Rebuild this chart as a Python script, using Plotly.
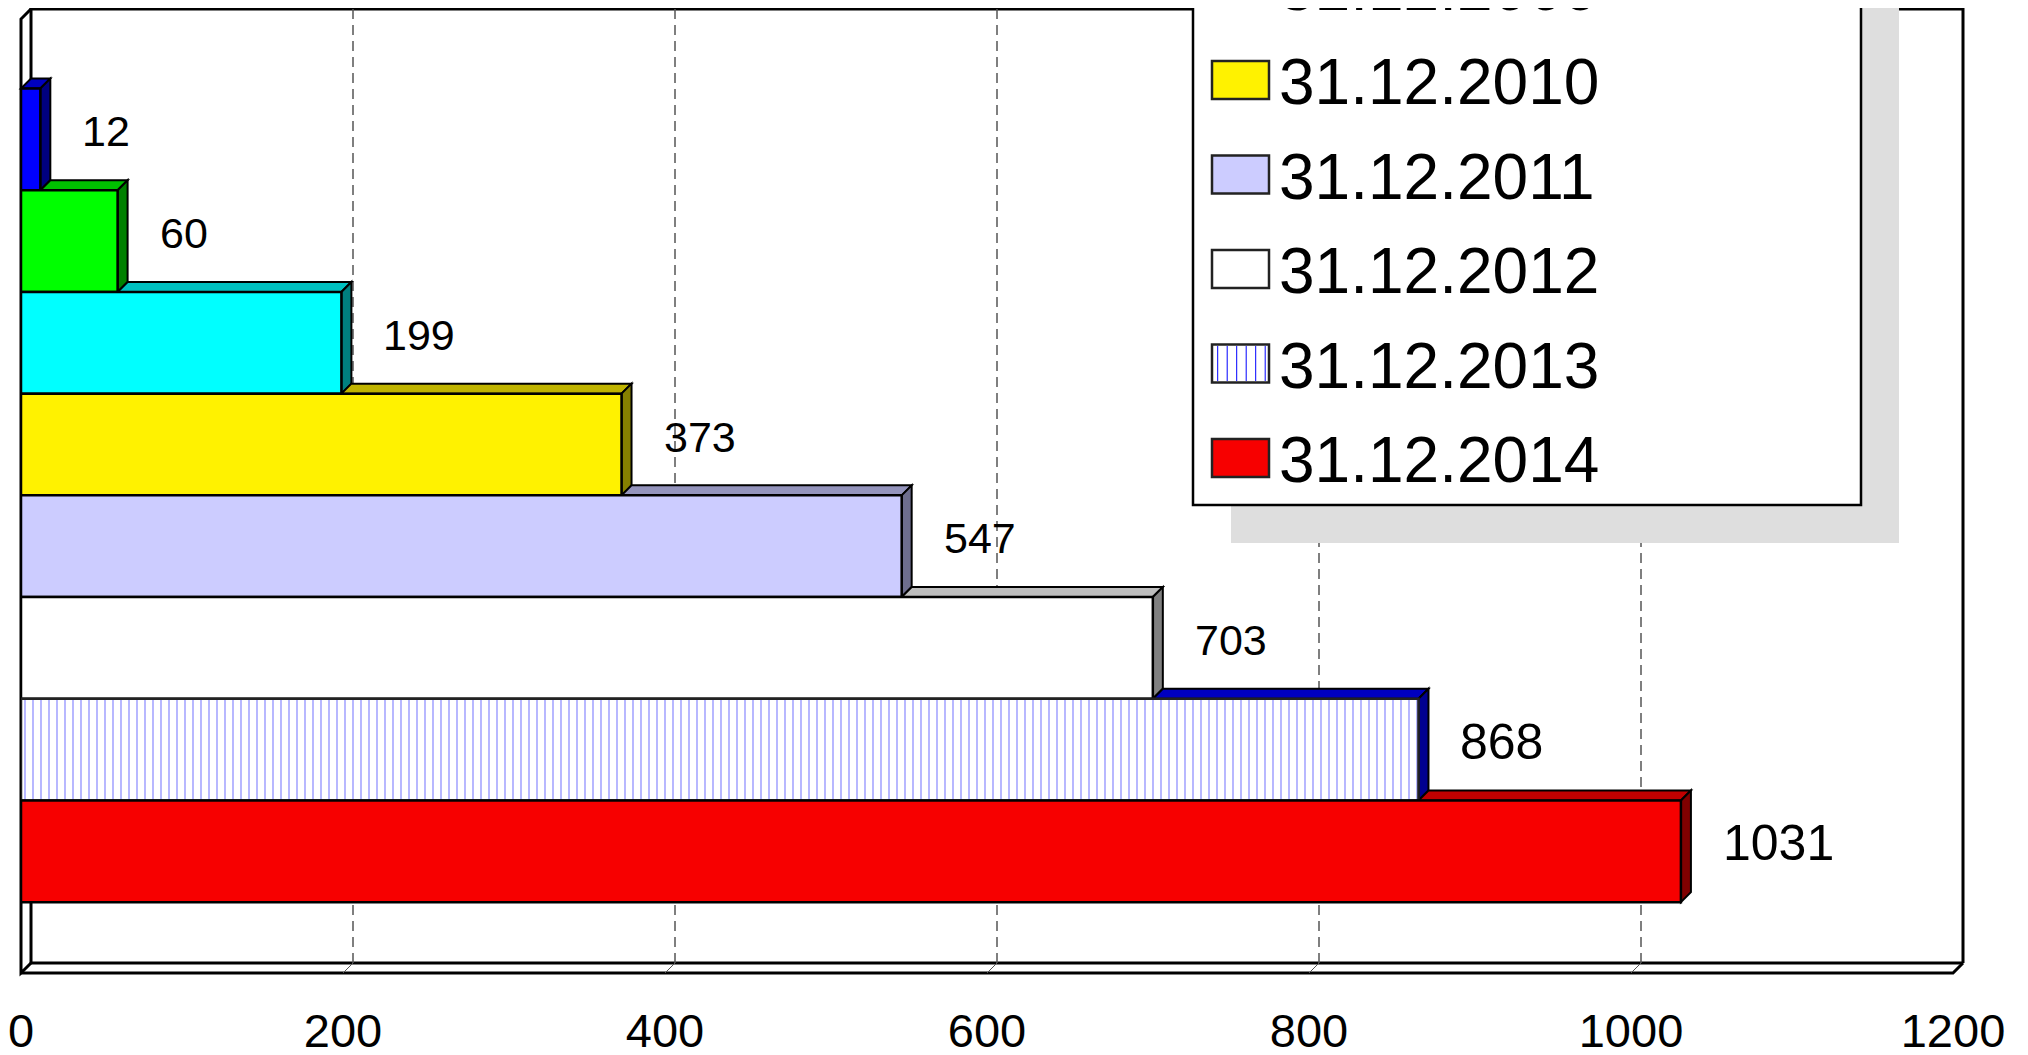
import plotly.graph_objects as go

# ---------------- data ----------------
series_names = ["31.12.2007", "31.12.2008", "31.12.2009", "31.12.2010",
                "31.12.2011", "31.12.2012", "31.12.2013", "31.12.2014"]
values = [12, 60, 199, 373, 547, 703, 868, 1031]
x_ticks = [0, 200, 400, 600, 800, 1000, 1200]

# ---------------- styles ----------------
front_colors = ["#0000FF", "#00FF00", "#00FFFF", "#FFF200",
                "#CCCCFF", "#FFFFFF", "#FFFFFF", "#F70000"]
top_colors = ["#0000C0", "#00C000", "#00C0C0", "#C0B400",
              "#9494BC", "#BEBEBE", "#0000C0", "#C00000"]
side_colors = ["#000080", "#008000", "#008080", "#868000",
               "#6E6E8E", "#808080", "#000090", "#800000"]
hatched = [False, False, False, False, False, False, True, False]
label_sizes = [43, 43, 43, 43, 43, 43, 50, 50]

FONT = "Liberation Sans, Arial, sans-serif"
W, H = 2028, 1055
SHIFT = 8
ML, MR, MT, MB = 21 - SHIFT, 75 + SHIFT, 19 - SHIFT, 82 + SHIFT
PW, PH = W - ML - MR, H - MT - MB
XMAX = 1200
BAR_PX = 101.7
Y_TOP = -1.184
Y_BOT = Y_TOP + PH / BAR_PX
DEPTH = 10  # px of the 3D offset
DXP, DYP = DEPTH / PW, DEPTH / PH


def xp(v):
    return v / XMAX


def yp(y):
    return (Y_BOT - y) / (Y_BOT - Y_TOP)


def lx(px):
    return (px - SHIFT - ML) / PW


def ly(py):
    return (H - MB - (py - SHIFT)) / PH


def path(pts):
    return "M " + " L ".join(f"{a:.6f},{b:.6f}" for a, b in pts) + " Z"


def line_path(pts):
    return "M " + " L ".join(f"{a:.6f},{b:.6f}" for a, b in pts)


fig = go.Figure()

# front faces of the bars
for i, (name, v) in enumerate(zip(series_names, values)):
    marker = dict(color=front_colors[i], line=dict(color="black", width=2.5))
    if hatched[i]:
        marker["pattern"] = dict(shape="|", fgcolor="#0000FF", bgcolor="white",
                                 size=8, solidity=0.14)
        marker["line"] = dict(color="#222222", width=2.5)
    fig.add_trace(go.Bar(x=[v], y=[i], orientation="h", width=1, name=name,
                         marker=marker, showlegend=False, hoverinfo="x+name"))

shapes = []
# back wall and floor
wall = dict(type="path", xref="paper", yref="paper", layer="below",
            line=dict(color="black", width=3))
shapes.append(dict(wall, path=line_path([(DXP, DYP), (DXP, 1 + DYP), (1 + DXP, 1 + DYP), (1 + DXP, DYP)])))
shapes.append(dict(wall, path=line_path([(DXP, DYP), (1 + DXP, DYP)])))
shapes.append(dict(wall, path=line_path([(DXP, DYP), (0, 0), (0, 1), (DXP, 1 + DYP)])))
shapes.append(dict(wall, path=line_path([(0, 0), (1, 0), (1 + DXP, DYP)])))

# dashed gridlines on the back wall + floor ticks
for t in x_ticks[1:-1]:
    shapes.append(dict(type="line", xref="paper", yref="paper", layer="below",
                       x0=xp(t) + DXP, x1=xp(t) + DXP, y0=DYP, y1=1 + DYP,
                       line=dict(color="#555555", width=1.5, dash="10px,6px")))
    shapes.append(dict(type="line", xref="paper", yref="paper", layer="below",
                       x0=xp(t), x1=xp(t) + DXP, y0=0, y1=DYP,
                       line=dict(color="#555555", width=1)))

# 3D side and top faces
for i, v in enumerate(values):
    t, b = i - 0.5, i + 0.5
    xs = values[i - 1] if i > 0 else 0
    top_pts = [(xp(xs), yp(t)), (xp(xs) + DXP, yp(t) + DYP),
               (xp(v) + DXP, yp(t) + DYP), (xp(v), yp(t))]
    side_pts = [(xp(v), yp(t)), (xp(v) + DXP, yp(t) + DYP),
                (xp(v) + DXP, yp(b) + DYP), (xp(v), yp(b))]
    shapes.append(dict(type="path", xref="paper", yref="paper", layer="below",
                       path=path(top_pts), fillcolor=top_colors[i],
                       line=dict(color="black", width=2)))
    shapes.append(dict(type="path", xref="paper", yref="paper", layer="below",
                       path=path(side_pts), fillcolor=side_colors[i],
                       line=dict(color="black", width=2)))

# legend (shadow, box, swatches)
LEG_L, LEG_R, LEG_T, LEG_B = 1193, 1861, -255, 505
SH = 38
shapes.append(dict(type="rect", xref="paper", yref="paper", layer="above",
                   x0=lx(LEG_L + SH), x1=lx(LEG_R + SH), y0=ly(LEG_B + SH), y1=ly(LEG_T + SH),
                   fillcolor="#DEDEDE", line=dict(width=0)))
shapes.append(dict(type="rect", xref="paper", yref="paper", layer="above",
                   x0=lx(LEG_L), x1=lx(LEG_R), y0=ly(LEG_B), y1=ly(LEG_T),
                   fillcolor="white", line=dict(color="black", width=2.5)))

annotations = []
ENTRY0, STEP = 80 - 3 * 94.5, 94.5
SW_L, SW_R, SW_H = 1212, 1269, 38
for k, name in enumerate(series_names):
    c = ENTRY0 + k * STEP
    shapes.append(dict(type="rect", xref="paper", yref="paper", layer="above",
                       x0=lx(SW_L), x1=lx(SW_R), y0=ly(c + SW_H / 2), y1=ly(c - SW_H / 2),
                       fillcolor=front_colors[k], line=dict(color="#222222", width=2.5)))
    if hatched[k]:
        n = 6
        for j in range(n):
            xx = SW_L + (j + 0.6) * (SW_R - SW_L) / n
            shapes.append(dict(type="line", xref="paper", yref="paper", layer="above",
                               x0=lx(xx), x1=lx(xx), y0=ly(c + SW_H / 2 - 1.5), y1=ly(c - SW_H / 2 + 1.5),
                               line=dict(color="#0000FF", width=1)))
    annotations.append(dict(xref="paper", yref="paper", x=lx(1277), y=ly(c + 2),
                            xanchor="left", yanchor="middle", showarrow=False, text=name,
                            font=dict(family=FONT, size=64, color="black")))

# data labels
for i, v in enumerate(values):
    annotations.append(dict(xref="x", yref="y", x=v, y=i, xanchor="left", yanchor="middle",
                            xshift=40, yshift=8, showarrow=False, text=str(v),
                            font=dict(family=FONT, size=label_sizes[i], color="black")))

fig.update_layout(
    width=W, height=H,
    margin=dict(l=ML, r=MR, t=MT, b=MB, autoexpand=False),
    paper_bgcolor="white", plot_bgcolor="rgba(0,0,0,0)",
    barmode="overlay", showlegend=False,
    shapes=shapes, annotations=annotations,
    xaxis=dict(range=[0, XMAX], tickvals=x_ticks, ticktext=[str(t) for t in x_ticks],
               showgrid=False, zeroline=False, showline=False, ticks="",
               tickfont=dict(family=FONT, size=47, color="black"),
               ticklabelstandoff=26, ticklabeloverflow="allow"),
    yaxis=dict(range=[Y_BOT, Y_TOP], visible=False, showgrid=False, zeroline=False),
)

fig.write_html("out.html")
